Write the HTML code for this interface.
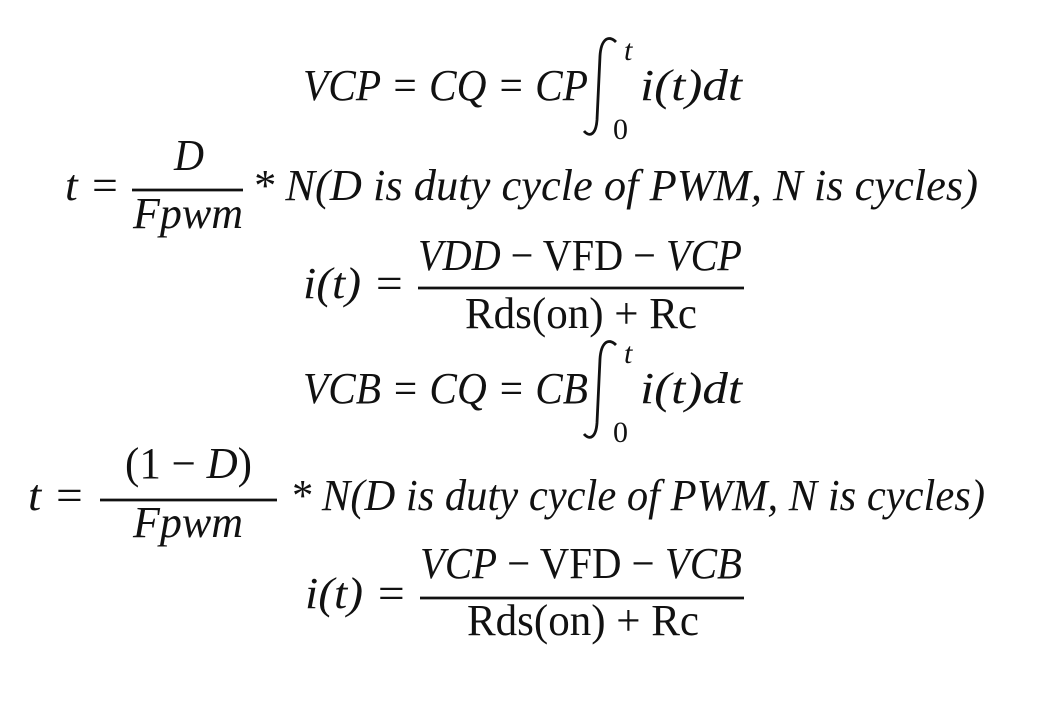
<!DOCTYPE html>
<html><head><meta charset="utf-8"><style>
html,body{margin:0;padding:0;background:#fff;}
svg{display:block}
text{font-family:"Liberation Serif",serif;font-size:44px;fill:#111;}
.i{font-style:italic}
.s{font-size:30px}
</style></head><body>
<svg width="1056" height="705" viewBox="0 0 1056 705" xmlns="http://www.w3.org/2000/svg">
<g stroke="#111" stroke-width="2.8" fill="none">
<path d="M616,42 C608,34 601,40 600,56 L597,120 C596,134 590,138 584,131"/>
<path d="M616,345 C608,337 601,343 600,359 L597,423 C596,437 590,441 584,434"/>
<line x1="132" y1="190" x2="243" y2="190"/>
<line x1="418" y1="288" x2="744" y2="288"/>
<line x1="100" y1="500" x2="277" y2="500"/>
<line x1="420" y1="598" x2="744" y2="598"/>
</g>
<!-- line 1 -->
<text class="i" x="303" y="100" textLength="285" lengthAdjust="spacingAndGlyphs">VCP = CQ = CP</text>
<text class="i s" x="624" y="60">t</text>
<text class="s" x="613" y="139">0</text>
<text class="i" x="640" y="100" textLength="102" lengthAdjust="spacingAndGlyphs">i(t)dt</text>
<!-- line 2 -->
<text class="i" x="65" y="200" textLength="55" lengthAdjust="spacingAndGlyphs">t =</text>
<text class="i" x="174" y="170" textLength="30" lengthAdjust="spacingAndGlyphs">D</text>
<text class="i" x="133" y="228" textLength="110" lengthAdjust="spacingAndGlyphs">Fpwm</text>
<text class="i" x="252" y="200" textLength="726" lengthAdjust="spacingAndGlyphs">* N(D is duty cycle of PWM, N is cycles)</text>
<!-- line 3 -->
<text class="i" x="303" y="298" textLength="102" lengthAdjust="spacingAndGlyphs">i(t) =</text>
<text x="418" y="270" textLength="324" lengthAdjust="spacingAndGlyphs"><tspan class="i">VDD</tspan> − VFD − <tspan class="i">VCP</tspan></text>
<text x="465" y="328" textLength="232" lengthAdjust="spacingAndGlyphs">Rds(on) + Rc</text>
<!-- line 4 -->
<text class="i" x="303" y="403" textLength="285" lengthAdjust="spacingAndGlyphs">VCB = CQ = CB</text>
<text class="i s" x="624" y="363">t</text>
<text class="s" x="613" y="442">0</text>
<text class="i" x="640" y="403" textLength="102" lengthAdjust="spacingAndGlyphs">i(t)dt</text>
<!-- line 5 -->
<text class="i" x="28" y="510" textLength="57" lengthAdjust="spacingAndGlyphs">t =</text>
<text x="125" y="478" textLength="127" lengthAdjust="spacingAndGlyphs">(1 − <tspan class="i">D</tspan>)</text>
<text class="i" x="133" y="537" textLength="110" lengthAdjust="spacingAndGlyphs">Fpwm</text>
<text class="i" x="290" y="510" textLength="695" lengthAdjust="spacingAndGlyphs">* N(D is duty cycle of PWM, N is cycles)</text>
<!-- line 6 -->
<text class="i" x="305" y="608" textLength="102" lengthAdjust="spacingAndGlyphs">i(t) =</text>
<text x="420" y="578" textLength="322" lengthAdjust="spacingAndGlyphs"><tspan class="i">VCP</tspan> − VFD − <tspan class="i">VCB</tspan></text>
<text x="467" y="635" textLength="232" lengthAdjust="spacingAndGlyphs">Rds(on) + Rc</text>
</svg>
</body></html>
